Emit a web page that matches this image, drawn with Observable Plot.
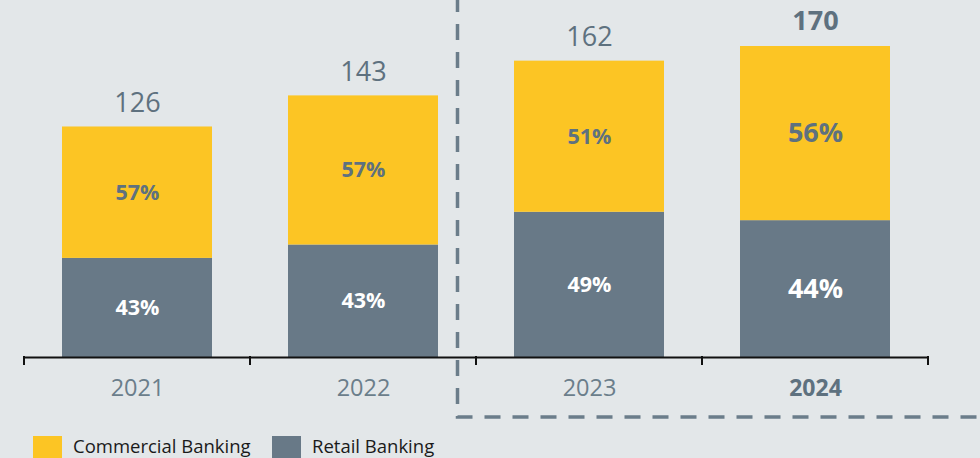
<!DOCTYPE html>
<html><head><meta charset="utf-8">
<script src="https://cdn.jsdelivr.net/npm/d3@7"></script>
<script src="https://cdn.jsdelivr.net/npm/@observablehq/plot@0.6"></script>
<style>
html,body{margin:0;padding:0;background:#e3e7e9;width:980px;height:458px;overflow:hidden;font-family:"Open Sans",sans-serif;}
#chart svg{display:block;}
#legend{position:relative;height:28px;}
.item{position:absolute;top:6px;display:flex;align-items:flex-start;}
.sw{width:29px;height:29px;}
.lab{font-size:18.5px;color:#1a1a1a;margin-left:11px;line-height:22px;margin-top:-1px;}
</style></head><body><div id="chart"></div><div id="legend"></div>
<script>
const years = ["2021", "2022", "2023", "2024"];
const totals = [126, 143, 162, 170];
const commercialPct = [57, 57, 51, 56];
const retailPct = [43, 43, 49, 44];
const seriesNames = ["Commercial Banking", "Retail Banking"];
const seriesColors = ["#fcc524", "#687987"];
const highlightYear = "2024";
const dividerYear = "2023";

const textGray = "#5e717f";
const yearGray = "#6b7e8b";

// build stacked rows: Retail at the bottom, Commercial on top
const rows = [];
years.forEach((year, i) => {
  const retail = totals[i] * retailPct[i] / 100;
  const commercial = totals[i] * commercialPct[i] / 100;
  rows.push({year, series: "Retail Banking", y1: 0, y2: retail, pct: retailPct[i]});
  rows.push({year, series: "Commercial Banking", y1: retail, y2: retail + commercial, pct: commercialPct[i]});
});
const totalRows = years.map((year, i) => ({year, total: totals[i]}));

const plot = Plot.plot({
  width: 980,
  height: 430,
  marginLeft: 24,
  marginRight: 51,
  marginTop: 46,
  marginBottom: 73,
  style: {background: "transparent", fontFamily: "'Open Sans', sans-serif", overflow: "visible"},
  x: {type: "band", domain: years, paddingInner: 0.336, paddingOuter: 0.168, axis: null},
  y: {domain: [0, 170], nice: false, axis: null},
  color: {domain: seriesNames, range: seriesColors},
  marks: [
    Plot.barY(rows, {x: "year", y1: "y1", y2: "y2", fill: "series"}),
    Plot.text(rows, {
      x: "year", y: d => (d.y1 + d.y2) / 2, text: d => d.pct + "%",
      fill: d => d.series === "Retail Banking" ? "white" : textGray,
      fontWeight: "bold",
      fontSize: d => d.year === highlightYear ? 27 : 21.5
    }),
    Plot.text(totalRows.filter(d => d.year !== highlightYear), {
      x: "year", y: "total", text: d => String(d.total), dy: -24, fontSize: 27, fill: textGray
    }),
    Plot.text(totalRows.filter(d => d.year === highlightYear), {
      x: "year", y: "total", text: d => String(d.total), dy: -25, fontSize: 27, fontWeight: "bold", fill: textGray
    }),
    Plot.text(years.filter(y => y !== highlightYear), {
      x: d => d, y: () => 0, text: d => d, dy: 31, fontSize: 23.5, fill: yearGray
    }),
    Plot.text(years.filter(y => y === highlightYear), {
      x: d => d, y: () => 0, text: d => d, dy: 31, fontSize: 23, fontWeight: "bold", fill: "#5e717f"
    }),
    Plot.ruleY([0], {stroke: "#111", strokeWidth: 2})
  ]
});
document.getElementById("chart").appendChild(plot);

// axis ticks at band boundaries and the dashed forecast frame, derived from the plot scales
const xs = plot.scale("x");
const ys = plot.scale("y");
const step = xs.step, bw = xs.bandwidth;
const base = ys.apply(0);
const bounds = years.map(y => xs.apply(y) - (step - bw) / 2);
bounds.push(xs.apply(years[years.length - 1]) + bw + (step - bw) / 2);
const svg = d3.select(plot);
const g = svg.append("g");
bounds.forEach(b => {
  g.append("line").attr("x1", b).attr("x2", b).attr("y1", base - 1).attr("y2", base + 8)
    .attr("stroke", "#111").attr("stroke-width", 2);
});
const dx = xs.apply(dividerYear) - step / 4;
const frameBottom = base + 60;
g.append("path")
  .attr("d", `M${dx},0V${frameBottom}H980`)
  .attr("fill", "none").attr("stroke", "#6b7d8a").attr("stroke-width", 3.5)
  .attr("stroke-dasharray", "16 12").attr("stroke-dashoffset", 4);

// legend
const legend = document.getElementById("legend");
const legendX = [33, 272];
seriesNames.forEach((name, i) => {
  const item = document.createElement("div");
  item.className = "item";
  item.style.left = legendX[i] + "px";
  item.innerHTML = `<div class="sw" style="background:${seriesColors[i]}"></div><div class="lab">${name}</div>`;
  legend.appendChild(item);
});
</script>
</body></html>
